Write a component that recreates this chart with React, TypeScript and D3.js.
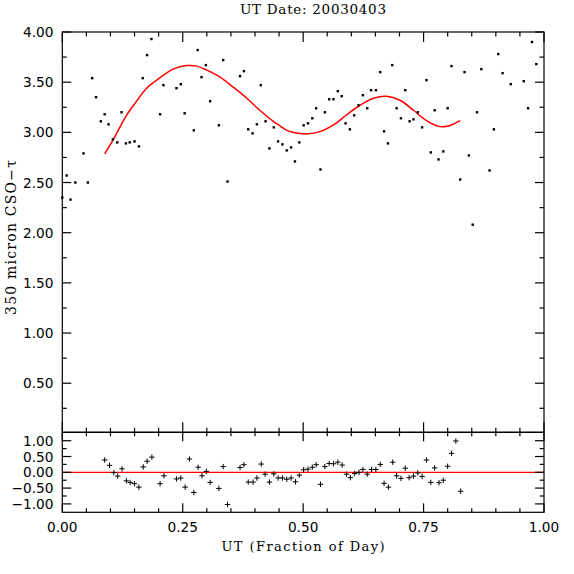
import React from "react";
import * as d3 from "d3";

const dataX = [0.000,0.009,0.017,0.027,0.044,0.053,0.062,0.070,0.080,0.088,0.096,0.105,0.114,0.123,0.132,0.140,0.150,0.159,0.167,0.176,0.185,0.203,0.210,0.237,0.246,0.254,0.273,0.281,0.289,0.298,0.307,0.325,0.334,0.343,0.369,0.377,0.386,0.395,0.404,0.412,0.422,0.430,0.439,0.448,0.457,0.466,0.475,0.483,0.492,0.501,0.510,0.519,0.527,0.536,0.545,0.554,0.563,0.572,0.580,0.588,0.597,0.606,0.615,0.624,0.633,0.641,0.651,0.660,0.668,0.676,0.685,0.694,0.703,0.712,0.721,0.729,0.738,0.747,0.756,0.765,0.773,0.781,0.791,0.800,0.808,0.826,0.835,0.844,0.852,0.861,0.870,0.887,0.896,0.905,0.914,0.931,0.958,0.967,0.975,0.984];
const dataTau = [2.35,2.57,2.33,2.50,2.79,2.50,3.54,3.35,3.11,3.18,3.08,2.93,2.90,3.20,2.89,2.90,2.91,2.86,3.54,3.77,3.93,3.18,3.47,3.44,3.48,3.19,3.02,3.82,3.55,3.67,3.31,3.07,3.72,2.51,3.56,3.61,3.03,2.99,3.08,3.47,3.11,2.84,3.05,2.91,2.88,2.82,2.85,2.71,2.90,3.07,3.09,3.14,3.24,2.63,3.20,3.33,3.33,3.41,3.36,3.09,3.03,3.17,3.27,3.37,3.24,3.42,3.42,3.60,3.01,2.89,3.67,3.24,3.14,3.42,3.11,3.13,3.20,3.05,3.52,2.80,3.22,2.73,2.81,3.24,3.66,2.53,3.60,2.77,2.08,3.20,3.63,2.62,3.03,3.78,3.59,3.48,3.51,3.24,3.90,3.68];

const fitX = [0.088,0.106,0.132,0.151,0.175,0.203,0.230,0.258,0.279,0.300,0.326,0.355,0.383,0.410,0.438,0.452,0.466,0.490,0.507,0.535,0.563,0.590,0.618,0.646,0.673,0.701,0.729,0.756,0.784,0.801,0.815,0.826];
const fitTau = [2.785,2.93,3.16,3.29,3.44,3.545,3.63,3.665,3.66,3.62,3.555,3.45,3.34,3.22,3.11,3.065,3.02,2.99,2.984,3.007,3.074,3.173,3.27,3.34,3.36,3.32,3.22,3.117,3.057,3.064,3.09,3.117];

const resX = [0.088,0.098,0.107,0.115,0.124,0.133,0.141,0.150,0.159,0.168,0.176,0.186,0.203,0.211,0.237,0.246,0.255,0.264,0.273,0.282,0.290,0.299,0.307,0.325,0.334,0.343,0.369,0.377,0.386,0.396,0.404,0.413,0.421,0.430,0.439,0.448,0.457,0.466,0.475,0.484,0.492,0.501,0.510,0.519,0.527,0.536,0.545,0.554,0.563,0.572,0.581,0.590,0.598,0.607,0.616,0.624,0.633,0.642,0.651,0.660,0.668,0.677,0.686,0.694,0.703,0.712,0.720,0.729,0.738,0.747,0.756,0.765,0.773,0.782,0.791,0.800,0.808,0.817,0.827];
const resVal = [0.39,0.22,-0.01,-0.12,0.11,-0.27,-0.32,-0.36,-0.47,0.17,0.35,0.48,-0.36,-0.11,-0.21,-0.18,-0.47,0.42,-0.64,0.16,-0.11,0.03,-0.32,-0.51,0.18,-1.02,0.15,0.24,-0.31,-0.31,-0.18,0.26,-0.06,-0.31,-0.05,-0.18,-0.18,-0.22,-0.18,-0.30,-0.09,0.08,0.10,0.16,0.24,-0.38,0.18,0.28,0.27,0.32,0.23,-0.06,-0.17,-0.04,0.00,0.09,-0.06,0.09,0.09,0.25,-0.35,-0.47,0.32,-0.11,-0.19,0.13,-0.17,-0.12,-0.02,-0.13,0.39,-0.32,0.14,-0.33,-0.25,0.19,0.60,0.99,-0.60];

const xTickLabels = ["0.00", "0.25", "0.50", "0.75", "1.00"];
const mainYLabels = ["0.50", "1.00", "1.50", "2.00", "2.50", "3.00", "3.50", "4.00"];
const resYLabels = ["1.00", "0.50", "0.00", "−0.50", "−1.00"];

const title = "UT Date: 20030403";
const xTitle = "UT (Fraction of Day)";
const yTitle = "350 micron CSO−τ";

const L = 62.3, R = 544, T = 32, MB = 432.3, RB = 512.3;
const tickFont = "'DejaVu Sans', sans-serif";
const labFont = "'DejaVu Serif', serif";

export default function App() {
  const x = d3.scaleLinear().domain([0, 1]).range([L, R]);
  const y = d3.scaleLinear().domain([0.011, 4.0]).range([MB, T]);
  const yr = d3.scaleLinear().domain([-1.266, 1.266]).range([RB, MB]);

  const xMinor = d3.range(0, 1.0001, 0.05);
  const yMainTicks = d3.range(0.25, 4.0001, 0.25);
  const yResTicks = d3.range(-1, 1.0001, 0.25);
  const isMajor = (v: number, step: number) => Math.abs(v / step - Math.round(v / step)) < 1e-6;

  const line = d3.line<number>()
    .x((_, i) => x(fitX[i]))
    .y((d) => y(d))
    .curve(d3.curveCatmullRom);

  const ticks: React.ReactNode[] = [];
  xMinor.forEach((v, i) => {
    const maj = isMajor(v, 0.25);
    const px = x(v);
    ticks.push(<line key={"mt" + i} x1={px} x2={px} y1={T} y2={T + (maj ? 10 : 4.5)} />);
    ticks.push(<line key={"mb" + i} x1={px} x2={px} y1={MB} y2={MB - (maj ? 10 : 4.5)} />);
    ticks.push(<line key={"rt" + i} x1={px} x2={px} y1={MB} y2={MB + (maj ? 9 : 4)} />);
    ticks.push(<line key={"rb" + i} x1={px} x2={px} y1={RB} y2={RB - (maj ? 9 : 4)} />);
  });
  yMainTicks.forEach((v, i) => {
    const maj = isMajor(v, 0.5);
    const py = y(v);
    const len = maj ? 9 : 4.5;
    ticks.push(<line key={"ml" + i} x1={L} x2={L + len} y1={py} y2={py} />);
    ticks.push(<line key={"mr" + i} x1={R} x2={R - len} y1={py} y2={py} />);
  });
  yResTicks.forEach((v, i) => {
    const maj = isMajor(v, 0.5);
    const py = yr(v);
    const len = maj ? 9 : 4.3;
    ticks.push(<line key={"rl" + i} x1={L} x2={L + len} y1={py} y2={py} />);
    ticks.push(<line key={"rr" + i} x1={R} x2={R - len} y1={py} y2={py} />);
  });

  const s = 2.7;
  return (
    <svg width={574} height={574} style={{ position: "absolute", left: 0, top: 0, background: "#fff" }}>
      <rect x={0} y={0} width={574} height={574} fill="#fff" />
      <text x={313} y={13.5} textAnchor="middle" fontFamily={labFont} fontSize={13.5} fill="#000"
        textLength={146} lengthAdjust="spacing">{title}</text>

      <path d={line(fitTau) || ""} fill="none" stroke="#ff0000" strokeWidth={1.5} />
      <line x1={L} x2={R} y1={yr(0)} y2={yr(0)} stroke="#ff0000" strokeWidth={1.2} />

      <g fill="#000">
        {dataX.map((d, i) => (
          <rect key={i} x={x(d) - 1.2} y={y(dataTau[i]) - 1.2} width={2.4} height={2.4} />
        ))}
      </g>
      <g stroke="#000" strokeWidth={1}>
        {resX.map((d, i) => {
          const cx = x(d), cy = yr(resVal[i]);
          return <path key={i} d={`M${cx - s},${cy}H${cx + s}M${cx},${cy - s}V${cy + s}`} />;
        })}
      </g>

      <g stroke="#000" strokeWidth={1.2} fill="none">
        <rect x={L} y={T} width={R - L} height={MB - T} />
        <rect x={L} y={MB} width={R - L} height={RB - MB} />
        {ticks}
      </g>

      <g fontFamily={tickFont} fontSize={13.7} fill="#000">
        {xTickLabels.map((t, i) => (
          <text key={"xl" + i} x={x(i * 0.25)} y={531.8} textAnchor="middle">{t}</text>
        ))}
        {mainYLabels.map((t, i) => (
          <text key={"yl" + i} x={53.5} y={y((i + 1) * 0.5) + 5} textAnchor="end">{t}</text>
        ))}
        {resYLabels.map((t, i) => (
          <text key={"ryl" + i} x={53.5} y={yr(1 - i * 0.5) + 5} textAnchor="end">{t}</text>
        ))}
      </g>

      <text x={303} y={550.7} textAnchor="middle" fontFamily={labFont} fontSize={13} fill="#000"
        textLength={163} lengthAdjust="spacing">{xTitle}</text>
      <text transform={`translate(16.3,237.5) rotate(-90)`} textAnchor="middle" fontFamily={labFont} fontSize={14} fill="#000"
        textLength={155} lengthAdjust="spacing">{yTitle}</text>
    </svg>
  );
}
